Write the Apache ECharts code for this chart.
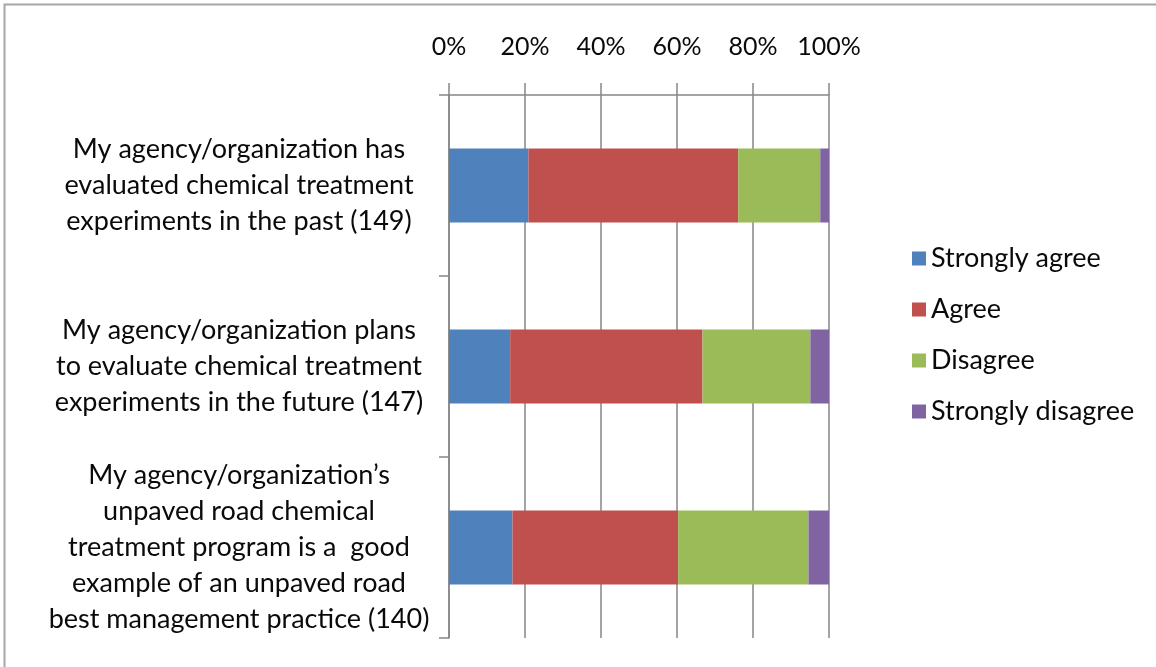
<!DOCTYPE html>
<html>
<head>
<meta charset="utf-8">
<script src="https://cdn.jsdelivr.net/npm/echarts@6/dist/echarts.min.js"></script>
<style>
  html, body { margin: 0; padding: 0; background: #fff; }
  #chart { width: 1156px; height: 667px; }
</style>
</head>
<body>
<div id="chart"></div>
<script>
// statements, top to bottom
var categories = [
  'My agency/organization has\nevaluated chemical treatment\nexperiments in the past (149)',
  'My agency/organization plans\nto evaluate chemical treatment\nexperiments in the future (147)',
  'My agency/organization\u2019s\nunpaved road chemical\ntreatment program is a  good\nexample of an unpaved road\nbest management practice (140)'
];
var xTicks = [0, 20, 40, 60, 80, 100];

// percent of responses per statement
var stronglyAgree = [20.9, 16.1, 16.7];
var agree = [55.2, 50.6, 43.6];
var disagree = [21.6, 28.4, 34.3];
var stronglyDisagree = [2.3, 4.9, 5.4];

var seriesNames = ['Strongly agree', 'Agree', 'Disagree', 'Strongly disagree'];
var seriesData = [stronglyAgree, agree, disagree, stronglyDisagree];
var colors = ['#4F81BD', '#C0504D', '#9BBB59', '#8064A2'];

var font = 'Lato';
var myChart = echarts.init(document.querySelector('#chart'));

option = {
  animation: false,
  color: colors,
  textStyle: { fontFamily: font },
  graphic: [
    {
      type: 'rect',
      left: 2, top: 2,
      shape: { width: 1300, height: 800 },
      style: { fill: 'none', stroke: '#a6a6a6', lineWidth: 2 }
    }
  ],
  grid: { left: 449, right: 327, top: 95, bottom: 29, outerBoundsMode: 'none' },
  legend: {
    orient: 'vertical',
    left: 907,
    top: 240,
    itemWidth: 14,
    itemHeight: 14,
    itemGap: 24,
    icon: 'rect',
    textStyle: { fontSize: 27, color: '#0a0a0a', fontFamily: font, lineHeight: 24 },
    data: seriesNames
  },
  xAxis: {
    type: 'value',
    position: 'top',
    min: xTicks[0],
    max: xTicks[xTicks.length - 1],
    interval: 20,
    axisLine: { show: true, lineStyle: { color: '#868686', width: 1.5 } },
    axisTick: { show: true, length: 12, lineStyle: { color: '#868686', width: 1.5 } },
    splitLine: { show: true, lineStyle: { color: '#868686', width: 1.5 } },
    axisLabel: { formatter: '{value}%', fontSize: 25, color: '#0a0a0a', margin: 36, fontFamily: font }
  },
  yAxis: {
    type: 'category',
    inverse: true,
    data: categories,
    axisLine: { show: true, lineStyle: { color: '#868686', width: 1.5 } },
    axisTick: { show: true, length: 10, lineStyle: { color: '#868686', width: 1.5 } },
    axisLabel: {
      align: 'center',
      margin: 210,
      fontSize: 27,
      lineHeight: 36,
      color: '#0a0a0a',
      fontFamily: font,
      interval: 0
    }
  },
  series: seriesNames.map(function (name, i) {
    return {
      name: name,
      type: 'bar',
      stack: 'total',
      barWidth: 74,
      data: seriesData[i]
    };
  })
};

myChart.setOption(option);
</script>
</body>
</html>
